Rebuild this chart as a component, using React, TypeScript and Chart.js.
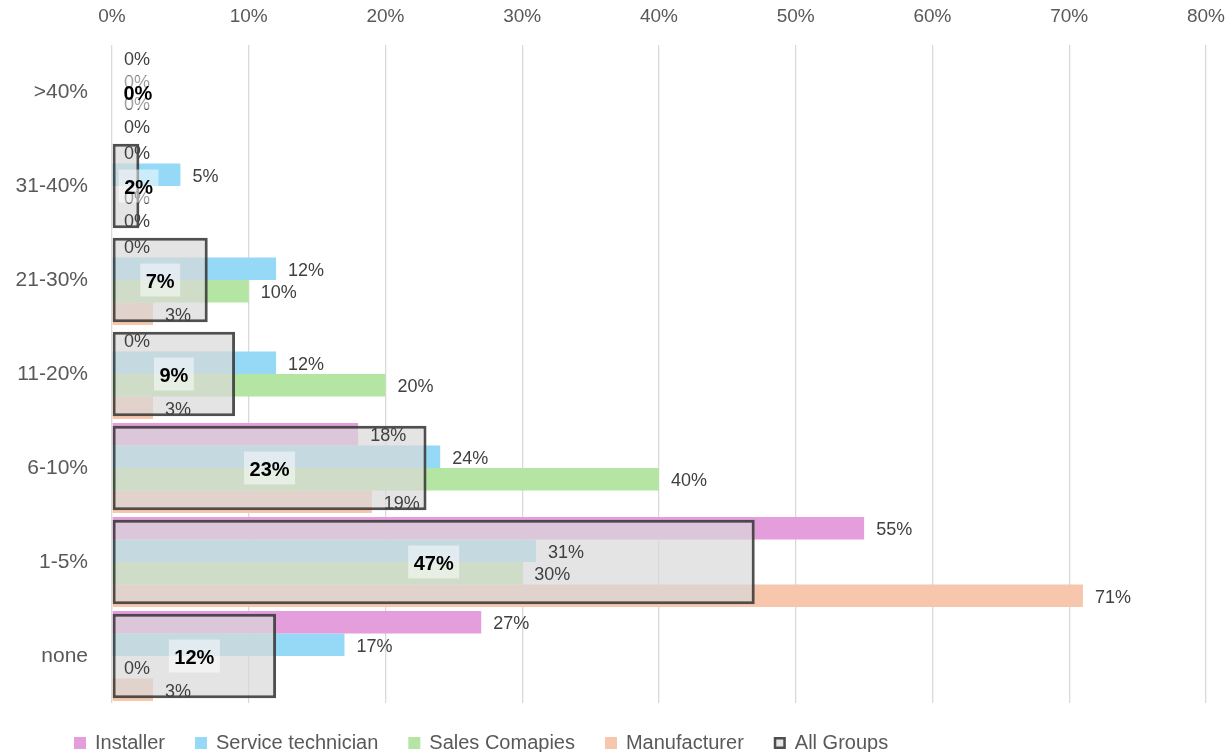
import React, { useEffect, useRef } from 'react';
import { Chart, registerables } from 'chart.js';

Chart.register(...registerables);

const FONT = '"Liberation Sans", Arial, sans-serif';

const categories = ['>40%', '31-40%', '21-30%', '11-20%', '6-10%', '1-5%', 'none'];
const installer = [0, 0, 0, 0, 18, 55, 27];
const serviceTechnician = [0, 5, 12, 12, 24, 31, 17];
const salesCompanies = [0, 0, 10, 20, 40, 30, 0];
const manufacturer = [0, 0, 3, 3, 19, 71, 3];
const allGroups = [0, 2, 7, 9, 23, 47, 12];
const seriesNames = ['Installer', 'Service technician', 'Sales Comapies', 'Manufacturer', 'All Groups'];
const seriesColors = ['#E49EDC', '#96D9F6', '#B4E5A2', '#F6C6AD'];
const xMin = 0;
const xMax = 80;
const xStep = 10;

const valueLabelPlugin = {
  id: 'valueLabels',
  afterDatasetsDraw(chart: any) {
    const ctx = chart.ctx;
    ctx.save();
    ctx.textBaseline = 'middle';
    for (let d = 0; d < 4; d++) {
      const meta = chart.getDatasetMeta(d);
      const data = chart.data.datasets[d].data;
      meta.data.forEach((bar: any, i: number) => {
        ctx.font = `18px ${FONT}`;
        ctx.fillStyle = '#404040';
        ctx.textAlign = 'left';
        ctx.fillText(`${data[i]}%`, bar.x + 12, bar.y + 2);
      });
    }
    const meta = chart.getDatasetMeta(4);
    const data = chart.data.datasets[4].data;
    meta.data.forEach((bar: any, i: number) => {
      const text = `${data[i]}%`;
      ctx.font = `bold 20px ${FONT}`;
      const w = ctx.measureText(text).width;
      const bw = w + 11;
      const bh = 33;
      const cx = Math.max((bar.x + bar.base) / 2, bar.base + 6 + bw / 2);
      ctx.fillStyle = 'rgba(255,255,255,0.5)';
      ctx.fillRect(cx - bw / 2, bar.y - bh / 2, bw, bh);
      ctx.fillStyle = '#000000';
      ctx.textAlign = 'center';
      ctx.fillText(text, cx, bar.y + 2);
    });
    ctx.restore();
  },
};

const legendPlugin = {
  id: 'customLegend',
  afterDraw(chart: any) {
    const ctx = chart.ctx;
    ctx.save();
    ctx.font = `20px ${FONT}`;
    ctx.textBaseline = 'middle';
    ctx.textAlign = 'left';
    let x = 74;
    const y = 743;
    chart.data.datasets.forEach((ds: any) => {
      const box = 12;
      ctx.fillStyle = ds.backgroundColor;
      ctx.fillRect(x, y - box / 2, box, box);
      if (ds.borderWidth && ds.borderWidth > 0) {
        ctx.strokeStyle = ds.borderColor;
        ctx.lineWidth = 2.5;
        ctx.strokeRect(x + 1.25, y - box / 2 + 1.25, box - 2.5, box - 2.5);
      }
      const tx = x + box + 9;
      ctx.fillStyle = '#595959';
      ctx.fillText(ds.label, tx, y);
      x = tx + ctx.measureText(ds.label).width + 30;
    });
    ctx.restore();
  },
};

export default function App() {
  const canvasRef = useRef<HTMLCanvasElement | null>(null);

  useEffect(() => {
    if (!canvasRef.current) return;
    const seriesData = [installer, serviceTechnician, salesCompanies, manufacturer];
    const datasets: any[] = seriesData.map((d, i) => ({
      label: seriesNames[i],
      data: d,
      backgroundColor: seriesColors[i],
      borderWidth: 0,
      categoryPercentage: 0.96,
      barPercentage: 1,
      grouped: true,
      order: 1,
    }));
    datasets.push({
      label: seriesNames[4],
      data: allGroups,
      backgroundColor: 'rgba(217,217,217,0.7)',
      borderColor: 'rgba(64,64,64,0.92)',
      borderWidth: 3,
      borderSkipped: false,
      grouped: false,
      categoryPercentage: 0.9,
      barPercentage: 1,
      order: 0,
    });

    const chart = new Chart(canvasRef.current, {
      type: 'bar',
      data: { labels: categories, datasets },
      options: {
        indexAxis: 'y',
        animation: false,
        responsive: false,
        maintainAspectRatio: false,
        layout: { padding: { left: 0, right: 0, top: 0, bottom: 49 } },
        plugins: {
          legend: { display: false },
          tooltip: { enabled: false },
        },
        scales: {
          x: {
            position: 'top',
            min: xMin,
            max: xMax,
            ticks: {
              stepSize: xStep,
              callback: (v: any) => `${v}%`,
              color: '#595959',
              font: { family: FONT, size: 19 },
              padding: 17,
            },
            grid: { color: '#d9d9d9', lineWidth: 1.3, drawTicks: false },
            border: { display: false },
            afterFit: (s: any) => {
              s.height = 45;
              s.paddingRight = 23;
              s.paddingLeft = 0;
            },
          },
          y: {
            position: 'left',
            ticks: {
              color: '#595959',
              font: { family: FONT, size: 21 },
              padding: 24,
            },
            grid: { display: false, drawTicks: false },
            border: { display: false },
            afterFit: (s: any) => {
              s.width = 112;
            },
          },
        },
      } as any,
      plugins: [valueLabelPlugin, legendPlugin],
    });
    return () => chart.destroy();
  }, []);

  return (
    <div style={{ position: 'fixed', left: 0, top: 0, width: 1229, height: 752, background: '#ffffff' }}>
      <canvas ref={canvasRef} width={1229} height={752} />
    </div>
  );
}
